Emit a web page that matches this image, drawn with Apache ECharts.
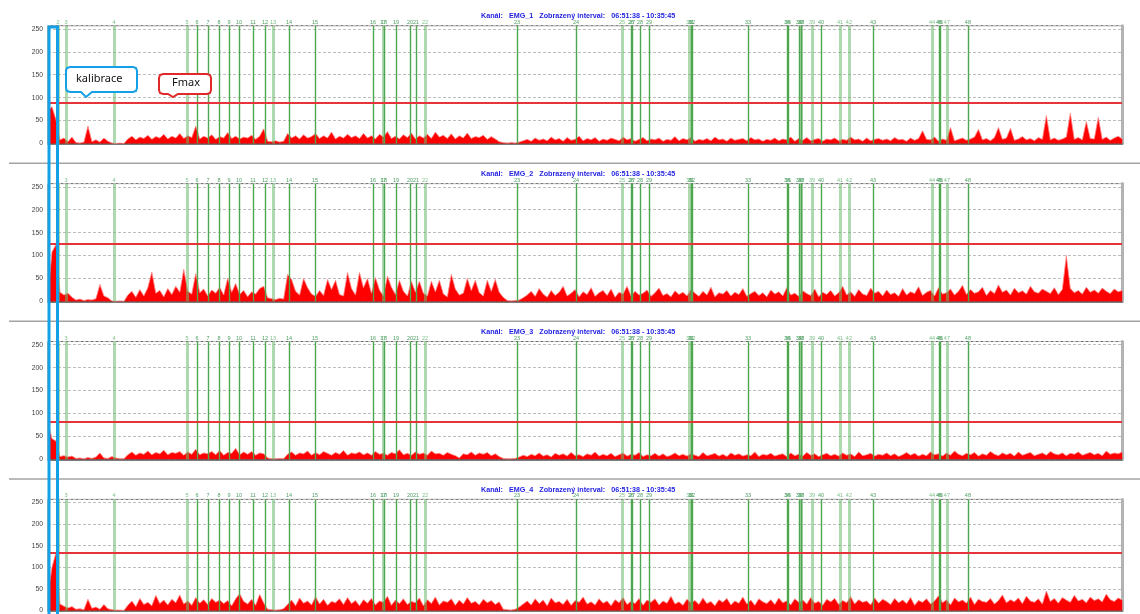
<!DOCTYPE html>
<html>
<head>
<meta charset="utf-8">
<script src="https://cdn.jsdelivr.net/npm/echarts@6/dist/echarts.min.js"></script>
<style>
  html, body { margin: 0; padding: 0; background: #fff; }
  #chart { width: 1140px; height: 614px; }
</style>
</head>
<body>
<div id="chart"></div>
<script>
// channels and the shown interval
const channels = ['EMG_1', 'EMG_2', 'EMG_3', 'EMG_4']
const shownInterval = '06:51:38 - 10:35:45'
const spanSec = 13447          // 06:51:38 -> 10:35:45
const sampleSec = 50           // one value every 50 s
const yMax = 257
const yTicks = [0, 50, 100, 150, 200, 250]
const fmax = [88, 126, 81, 134]

// event markers (seconds from the start)
const markerNums = [2, 3, 4, 5, 6, 7, 8, 9, 10, 11, 12, 13, 14, 15, 16, 17, 18, 19, 20, 21, 22, 23, 24, 25,
  26, 27, 28, 29, 30, 31, 32, 33, 34, 35, 36, 37, 38, 39, 40, 41, 42, 43, 44, 45, 46, 47, 48]
const markerSec = [125, 225, 826, 1740, 1866, 2003, 2141, 2266, 2391, 2567, 2717, 2817, 3017, 3343, 4069,
  4194, 4207, 4357, 4532, 4607, 4720, 5872, 6611, 7186, 7299, 7312, 7412, 7525, 8025, 8050, 8063, 8764,
  9252, 9265, 9402, 9428, 9430, 9565, 9678, 9916, 10028, 10329, 11068, 11155, 11168, 11255, 11518]
const paleMarkers = [2, 3, 4, 5, 13, 17, 22, 25, 30, 37, 39, 41, 42, 44, 47]

const emg1 = [
  72, 80, 52, 8, 12, 4, 14, 2, 1, 3,
  38, 4, 8, 3, 12, 5, 1, 0, 1, 0,
  10, 16, 8, 14, 11, 18, 9, 15, 12, 20,
  10, 16, 12, 22, 11, 17, 13, 38, 10, 16,
  12, 19, 9, 15, 12, 24, 11, 16, 10, 14,
  12, 18, 9, 16, 32, 5, 4, 6, 3, 5,
  22, 12, 17, 10, 19, 12, 15, 22, 11, 17,
  12, 25, 10, 16, 12, 20, 13, 17, 11, 22,
  12, 17, 10, 20, 14, 26, 11, 16, 10, 19,
  13, 23, 10, 17, 12, 20, 11, 25, 14, 18,
  11, 21, 10, 17, 12, 23, 11, 15, 13, 18,
  9, 15, 10, 4, 2, 1, 2, 1, 3, 6,
  9, 5, 12, 7, 10, 6, 14, 8, 11, 5,
  13, 7, 9, 16, 6, 11, 8, 13, 5, 10,
  7, 12, 9, 6, 14, 8, 11, 5, 9, 13,
  6, 10, 8, 12, 5, 9, 7, 15, 6, 11,
  8, 13, 5, 9, 7, 11, 6, 14, 8, 10,
  5, 12, 7, 9, 11, 6, 13, 8, 10, 5,
  9, 7, 12, 6, 10, 8, 14, 5, 11, 7,
  13, 6, 9, 11, 5, 10, 8, 12, 6, 9,
  7, 14, 8, 10, 5, 12, 6, 9, 11, 7,
  10, 6, 13, 8, 9, 5, 12, 7, 11, 28,
  9, 8, 14, 5, 10, 7, 35, 6, 9, 12,
  7, 10, 14, 31, 8, 11, 6, 13, 35, 9,
  12, 33, 7, 10, 15, 8, 11, 6, 13, 9,
  61, 8, 12, 7, 10, 14, 66, 9, 13, 8,
  48, 11, 10, 57, 9, 14, 7, 12, 16, 10
]
const emg2 = [
  16, 108, 124, 20, 14, 18, 9, 3, 5, 2,
  4, 3, 6, 37, 12, 8, 1, 0, 1, 0,
  14, 22, 9, 26, 12, 30, 64, 18, 24, 10,
  28, 15, 33, 20, 70, 22, 16, 61, 19, 27,
  12, 25, 18, 31, 14, 51, 20, 39, 15, 24,
  10, 21, 16, 28, 33, 8, 6, 4, 7, 5,
  59, 48, 22, 14, 50, 30, 16, 11, 24, 13,
  48, 26, 46, 15, 12, 63, 28, 14, 63, 30,
  50, 18, 52, 25, 12, 55, 31, 15, 46, 22,
  12, 44, 20, 44, 18, 12, 44, 21, 46, 16,
  10, 59, 27, 14, 18, 50, 24, 46, 19, 12,
  46, 22, 48, 20, 9, 2, 1, 2, 3, 8,
  14, 22, 11, 28, 16, 9, 24, 13, 20, 33,
  12, 18, 26, 10, 21, 15, 30, 11, 19, 24,
  13, 27, 9, 20, 16, 33, 12, 22, 14, 18,
  25, 11, 19, 29, 13, 17, 10, 23, 15, 20,
  12, 26, 18, 11, 22, 14, 31, 10, 19, 16,
  24, 12, 20, 15, 28, 11, 17, 22, 13, 19,
  10, 25, 16, 21, 12, 30, 14, 18, 11, 23,
  17, 13, 27, 10, 20, 15, 24, 12, 19, 33,
  14, 21, 11, 26, 16, 13, 29, 18, 22, 12,
  25, 15, 19, 11, 28, 14, 21, 17, 32, 13,
  20, 24, 12, 30, 16, 19, 27, 14, 22, 35,
  15, 26, 18, 21, 31, 13, 24, 17, 36, 20,
  25, 14, 29, 19, 23, 16, 33, 21, 18, 27,
  22, 17, 30, 15, 26, 100, 28, 19, 24, 16,
  31, 20, 25, 18, 29, 22, 17, 27, 21, 24
]
const emg3 = [
  80, 45, 40, 6, 8, 5, 7, 2, 3, 1,
  4, 2, 5, 14, 3, 2, 6, 3, 1, 1,
  10, 16, 9, 14, 11, 18, 10, 15, 12, 20,
  10, 15, 13, 17, 9, 16, 11, 22, 10, 14,
  12, 17, 10, 19, 9, 15, 13, 24, 10, 16,
  11, 17, 9, 14, 12, 3, 1, 1, 2, 1,
  11, 16, 9, 14, 12, 18, 9, 15, 10, 17,
  13, 9, 15, 11, 19, 9, 14, 12, 16, 10,
  14, 9, 17, 11, 13, 9, 15, 12, 21, 10,
  13, 9, 16, 11, 14, 9, 18, 12, 13, 9,
  15, 11, 8, 3, 12, 10, 16, 9, 14, 11,
  15, 8, 12, 6, 2, 1, 1, 2, 5, 9,
  6, 11, 8, 14, 7, 10, 5, 13, 9, 12,
  7, 15, 8, 10, 6, 12, 9, 16, 7, 11,
  8, 13, 6, 10, 14, 7, 11, 9, 15, 6,
  10, 8, 13, 7, 12, 6, 9, 14, 8, 11,
  7, 12, 9, 6, 15, 8, 10, 13, 7, 11,
  6, 14, 9, 12, 7, 10, 8, 16, 6, 11,
  9, 13, 7, 10, 12, 6, 14, 8, 11, 7,
  15, 9, 12, 6, 10, 13, 8, 11, 7, 14,
  9, 12, 6, 16, 8, 10, 13, 7, 11, 9,
  14, 8, 12, 6, 10, 15, 9, 13, 7, 11,
  8, 16, 10, 12, 7, 14, 9, 18, 11, 8,
  13, 10, 15, 7, 12, 9, 17, 11, 8, 14,
  10, 13, 7, 16, 9, 12, 15, 8, 11, 14,
  9, 17, 12, 10, 14, 8, 13, 11, 16, 9,
  12, 15, 10, 13, 8, 18, 11, 14, 12, 16
]
const emg4 = [
  40, 100, 134, 15, 10, 6, 9, 3, 4, 2,
  26, 5, 8, 3, 14, 4, 2, 1, 1, 0,
  12, 22, 9, 28, 14, 19, 11, 35, 16, 24,
  13, 26, 18, 36, 15, 22, 12, 30, 17, 25,
  14, 28, 19, 24, 16, 23, 11, 27, 39, 21,
  15, 26, 12, 37, 18, 3, 2, 1, 2, 4,
  14, 24, 11, 29, 17, 22, 13, 32, 15, 26,
  12, 21, 18, 27, 14, 30, 16, 23, 11, 25,
  17, 28, 13, 22, 19, 33, 12, 24, 16, 27,
  14, 21, 18, 29, 11, 25, 16, 31, 13, 22,
  19, 27, 12, 24, 15, 30, 17, 21, 13, 26,
  18, 23, 14, 20, 3, 2, 1, 3, 8, 15,
  22, 13, 27, 16, 24, 11, 29, 18, 21, 14,
  26, 12, 23, 19, 31, 15, 20, 13, 27, 17,
  22, 11, 25, 18, 30, 14, 21, 16, 28, 12,
  24, 19, 27, 13, 22, 17, 33, 15, 20, 12,
  26, 18, 23, 14, 29, 16, 21, 11, 25, 19,
  28, 13, 22, 17, 31, 15, 24, 12, 27, 20,
  16, 25, 14, 29, 18, 22, 13, 27, 19, 24,
  15, 30, 17, 21, 12, 26, 20, 28, 14, 23,
  18, 32, 15, 25, 19, 22, 13, 29, 17, 26,
  21, 14, 28, 18, 24, 16, 30, 12, 23, 19,
  27, 15, 22, 34, 18, 25, 13, 29, 20, 24,
  17, 31, 14, 26, 21, 19, 28, 15, 23, 36,
  18, 25, 20, 29, 16, 33, 22, 19, 27, 15,
  45, 21, 28, 17, 30, 24, 19, 35, 22, 26,
  18, 31, 23, 27, 20, 38, 25, 21, 29, 24
]
const signals = [emg1, emg2, emg3, emg4]

const FONT = 'Liberation Sans'
const PANEL = 157.9
const TOP0 = 25.7
const GRID_H = 117.8

const chart = echarts.init(document.getElementById('chart'))

const grid = []
const xAxis = []
const yAxis = []
const series = []
const title = []

const markerLines = markerNums.map((n, i) => {
  const pale = paleMarkers.includes(n)
  return {
    xAxis: markerSec[i],
    lineStyle: pale
      ? { color: 'rgba(110,185,110,0.55)', width: 3, type: 'solid' }
      : { color: '#4ea64e', width: 1.4, type: 'solid' },
    label: {
      show: true,
      position: 'end',
      distance: 0.5,
      formatter: String(n),
      fontSize: 5.5,
      fontFamily: FONT,
      color: pale ? '#7cbf8a' : '#4f9f64',
    },
  }
})

channels.forEach((ch, k) => {
  const top = TOP0 + k * PANEL
  grid.push({ left: 48, right: 18, top, height: GRID_H, show: true, borderColor: '#6b6b6b', borderWidth: 1 })
  xAxis.push({
    type: 'value', gridIndex: k, min: 0, max: spanSec,
    axisLine: { onZero: false, lineStyle: { color: '#505050', width: 1.5 } },
    axisTick: { show: false }, axisLabel: { show: false }, splitLine: { show: false },
  })
  yAxis.push({
    type: 'value', gridIndex: k, min: 0, max: yMax, interval: 50,
    axisLine: { show: false }, axisTick: { show: false },
    axisLabel: {
      fontSize: 6.8, color: '#444', margin: 5, fontFamily: FONT,
      formatter: v => (yTicks.includes(v) ? String(v) : ''),
    },
    splitLine: { lineStyle: { color: '#bdbdbd', type: [3, 2], width: 1 } },
  })
  yAxis.push({
    type: 'value', gridIndex: k, position: 'right', min: 0, max: yMax,
    axisLine: { show: true, lineStyle: { color: '#b3b3b3', width: 3 } },
    axisTick: { show: false }, axisLabel: { show: false }, splitLine: { show: false },
  })
  title.push({
    text: `Kanál:\u00a0\u00a0 ${ch}\u00a0\u00a0 Zobrazený interval:\u00a0\u00a0 ${shownInterval}`,
    left: 481, top: top - 13, padding: 0,
    textStyle: { fontSize: 7.2, fontWeight: 'bold', color: '#2424e2', fontFamily: FONT },
  })
  series.push({
    type: 'line', xAxisIndex: k, yAxisIndex: 2 * k,
    data: signals[k].map((v, i) => [i * sampleSec, v]),
    showSymbol: false, silent: true, animation: false,
    lineStyle: { color: '#ff8a8a', width: 0.8 },
    areaStyle: { color: '#ff0000', opacity: 1 },
    markLine: {
      symbol: 'none', silent: true, animation: false,
      data: [
        ...markerLines,
        { yAxis: fmax[k], lineStyle: { color: '#e6343a', width: 2.2, type: 'solid' }, label: { show: false } },
      ],
    },
  })
})

// separators between channels and the callouts
const graphic = [1, 2, 3].map(k => ({
  type: 'line', shape: { x1: 9, y1: 163.3 + (k - 1) * PANEL, x2: 1140, y2: 163.3 + (k - 1) * PANEL },
  style: { stroke: '#a3a3a3', lineWidth: 1.5 }, z: 50,
}))
graphic.push(
  {
    type: 'rect', shape: { x: 49, y: 27, width: 8.5, height: 600 },
    style: { stroke: '#13a0e6', lineWidth: 3, fill: null }, z: 100,
  },
  {
    type: 'polygon', z: 100,
    shape: { points: [[70, 67], [133, 67], [136, 68], [137, 71], [137, 88], [136, 91], [133, 92], [92, 92], [86, 97],
      [81, 92], [70, 92], [67, 91], [66, 88], [66, 71], [67, 68]] },
    style: { stroke: '#13a0e6', lineWidth: 2, fill: '#fff' },
  },
  {
    type: 'text', z: 101, x: 76, y: 79,
    style: { text: 'kalibrace', fontSize: 11, fontFamily: 'Noto Sans', fill: '#111', verticalAlign: 'middle' },
  },
  {
    type: 'polygon', z: 100,
    shape: { points: [[163, 74], [207, 74], [210, 75], [211, 78], [211, 90], [210, 93], [207, 94], [178, 94], [173, 97],
      [168, 94], [163, 94], [160, 93], [159, 90], [159, 78], [160, 75]] },
    style: { stroke: '#e02a2a', lineWidth: 2, fill: '#fff' },
  },
  {
    type: 'text', z: 101, x: 172, y: 83,
    style: { text: 'Fmax', fontSize: 11, fontFamily: 'Noto Sans', fill: '#111', verticalAlign: 'middle' },
  },
)

chart.setOption({
  animation: false,
  title,
  grid,
  xAxis,
  yAxis,
  series,
  graphic,
})
</script>
</body>
</html>
